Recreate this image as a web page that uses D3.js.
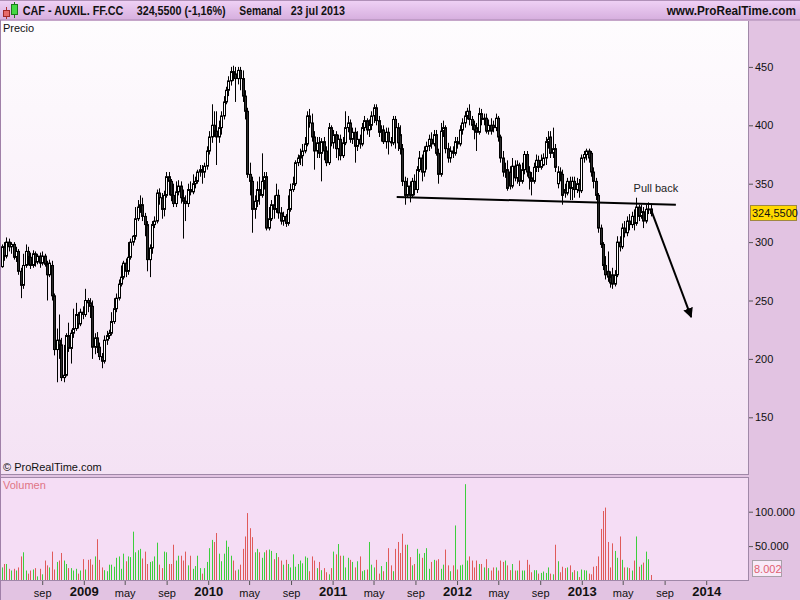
<!DOCTYPE html>
<html><head><meta charset="utf-8">
<script src="https://cdn.jsdelivr.net/npm/d3@7"></script>
<style>
body{margin:0;background:#e2c4e2;}
svg{display:block;font-family:Arial,"Liberation Sans",sans-serif;}
</style>
</head><body>
<svg id="chart" width="800" height="600"></svg>
<script>
// ---------- DATA (weekly, CAF - AUXIL. FF.CC) ----------
const firstWeek = "2008-05-05";
const lastWeek = "2013-07-22";
const opens = [279,296,288,300,296,298,287,292,275,263,280,292,287,280,290,283,288,282,288,281,272,280,254,208,216,212,184,186,220,209,222,226,238,230,240,238,250,248,245,210,218,210,202,198,216,220,222,232,243,252,264,270,282,275,287,300,305,320,330,332,322,315,285,295,315,318,342,338,328,340,356,352,340,333,343,348,338,335,333,345,343,350,352,360,362,360,365,378,390,400,395,390,398,408,420,430,438,446,444,440,447,440,425,412,358,352,328,335,345,340,352,356,312,320,332,328,340,325,318,322,316,328,345,350,368,372,374,378,384,408,402,390,378,385,376,386,378,368,398,385,392,380,388,374,385,398,402,388,394,382,388,384,398,404,396,400,408,415,404,394,396,386,394,386,385,405,398,392,380,352,340,348,340,352,345,362,372,360,378,382,388,384,392,376,358,395,398,380,372,378,376,386,384,396,402,408,412,405,400,398,394,410,405,406,395,400,400,398,406,390,372,360,362,360,348,365,355,366,352,362,375,360,355,352,364,370,364,366,372,386,390,376,380,350,360,358,345,342,352,346,352,345,350,344,372,375,378,376,360,352,340,312,298,280,275,270,272,264,272,300,296,312,308,318,315,322,316,330,322,326,318,328,328.4];
const highs = [298,300,304,303,300,300,296,294,278,290,298,296,291,293,292,290,291,292,290,284,285,284,256,226,238,218,212,222,231,225,243,248,240,243,245,260,252,252,250,222,223,214,205,220,224,225,240,252,256,268,280,284,286,300,303,306,330,336,340,338,325,318,298,318,322,345,346,342,344,360,360,354,350,352,353,352,345,340,350,352,358,356,362,366,366,368,382,395,418,412,412,404,412,425,433,442,450,451,450,450,450,447,430,415,368,356,340,352,356,376,360,360,330,336,340,350,345,330,326,324,340,350,356,370,375,380,384,390,412,414,410,395,390,390,389,390,382,402,400,396,395,392,392,390,412,408,405,398,398,395,392,402,408,406,405,412,418,418,408,400,400,398,398,390,408,408,402,400,384,356,355,352,355,358,365,378,375,382,386,392,394,396,396,380,402,404,400,385,382,382,390,390,400,406,412,415,418,408,404,402,415,414,410,410,405,406,404,410,408,392,378,368,370,365,372,370,370,368,368,378,378,365,360,368,375,374,375,376,390,395,395,398,384,365,364,362,350,355,356,356,356,355,354,375,378,380,380,378,364,355,342,315,300,288,292,275,278,276,305,305,316,318,322,324,326,328,338,332,332,330,332,334,333];
const lows = [278,284,286,292,290,285,283,272,252,260,278,280,277,278,279,281,278,280,279,250,270,250,203,180,200,181,180,185,206,196,218,224,226,228,234,236,240,235,200,204,205,199,192,196,212,217,220,230,240,250,262,268,270,272,285,297,302,318,325,318,305,275,270,290,312,316,332,320,322,338,340,335,330,330,340,333,303,318,330,340,341,346,350,356,350,355,362,375,385,390,366,385,392,405,418,425,434,438,420,435,430,420,405,355,340,308,320,330,332,338,345,310,310,318,320,325,320,315,314,313,314,326,343,348,365,366,365,376,382,398,386,362,372,372,352,370,365,366,382,380,372,370,370,372,383,394,385,384,368,378,380,382,395,392,390,396,402,400,390,386,384,380,375,382,383,380,378,375,348,332,338,334,338,340,342,360,352,356,362,378,380,382,374,350,356,390,376,368,368,372,374,380,382,392,398,405,400,396,388,378,392,400,400,393,392,392,394,395,386,368,356,355,344,345,346,352,350,348,350,358,356,345,340,350,360,360,362,365,366,380,372,372,360,346,352,332,338,340,336,336,338,342,338,342,368,370,368,356,346,336,308,295,276,268,266,261,260,262,270,292,294,304,305,310,312,310,314,318,320,312,316,324,322];
const closes = [296,288,300,296,298,287,292,275,263,280,292,287,280,290,283,288,282,288,281,272,282,254,208,216,212,184,186,220,209,222,226,238,230,240,238,250,248,245,210,218,210,202,198,216,220,222,232,243,252,264,270,282,275,287,300,305,320,330,332,322,315,285,295,315,318,342,338,328,340,356,352,340,333,343,348,338,335,333,345,343,350,352,360,362,360,365,378,390,400,395,390,398,408,420,430,438,446,444,440,447,440,425,412,358,352,328,335,345,340,352,356,312,320,332,328,340,325,318,322,316,328,345,350,368,372,374,378,384,408,402,390,378,385,376,386,378,368,398,385,392,380,388,374,385,398,402,388,394,382,388,384,398,404,396,400,408,415,404,394,396,386,394,386,385,405,398,385,380,352,340,348,340,352,345,362,372,360,378,382,388,384,392,376,358,395,398,380,372,378,376,386,384,396,402,408,412,405,400,396,394,410,405,406,395,400,395,398,406,390,372,360,362,346,348,365,355,366,352,362,375,360,355,352,364,370,364,370,372,386,388,376,380,364,360,358,340,342,352,346,352,345,350,344,372,375,378,372,360,352,340,312,298,280,272,270,265,264,272,300,296,312,308,318,315,322,316,330,322,326,318,328,328.4,324.55];
const volumes = [19000,24000,24000,17000,14500,17000,14500,19000,35000,41000,14500,10000,14500,16000,18000,6000,17000,9000,29000,22000,19000,42000,16000,27000,29000,40000,29000,24000,18000,18000,14500,17000,10000,14500,31000,16000,30000,31000,23000,35000,60000,30000,19000,15000,13500,23000,23000,20000,33000,35000,17000,39000,28000,35000,34000,71000,41000,44000,46000,32000,42000,24000,27000,28000,35000,55000,23000,18000,42000,41000,24000,24000,52000,29000,36000,36000,29000,42000,22000,36000,17000,21000,36000,18000,10000,18000,27000,47000,59000,56000,69000,39000,28000,39000,58000,49000,36000,29000,14500,16000,23000,46000,64000,98000,76000,63000,41000,46000,41000,33000,41000,44000,45000,43000,31000,40000,34000,29000,23000,30000,24000,19000,38000,20000,24000,29000,25000,35000,33000,13500,35000,29000,18000,27000,15000,18000,12000,9000,18000,42000,38000,53000,36000,36000,19000,33000,30000,27000,19000,28000,35000,13500,15000,16000,56000,23000,19000,30000,10000,21000,13500,27000,47000,22000,13500,46000,56000,40000,68000,52000,52000,34000,22000,24000,46000,39000,33000,40000,47000,17000,27000,30000,29000,31000,17000,23000,45000,22000,13500,22000,80000,16000,22000,23000,140000,29000,35000,29000,19000,29000,24000,24000,19000,31000,18000,14500,19000,19000,14500,29000,27000,29000,22000,15000,24000,14500,14500,29000,14500,14500,30000,23000,12000,15000,15000,10000,11000,13000,11000,19000,10000,9000,52000,28000,12000,20000,18000,19000,22000,12000,15000,13500,5000,16000,15000,14500,10000,9000,20000,21000,35000,75000,101000,106000,56000,19000,54000,43000,33000,64000,30000,19000,19000,18000,14500,29000,64000,20000,23000,26000,42000,31000,8002];
const priceTicks = [150,200,250,300,350,400,450];
const volumeTicks = [50000,100000];
const timeTickDates = ["2008-09-01","2009-01-01","2009-05-01","2009-09-01","2010-01-01","2010-05-01","2010-09-01","2011-01-01","2011-05-01","2011-09-01","2012-01-01","2012-05-01","2012-09-01","2013-01-01","2013-05-01","2013-09-01","2014-01-01"];
const timeTickLabels = ["sep","2009","may","sep","2010","may","sep","2011","may","sep","2012","may","sep","2013","may","sep","2014"];
const lastPrice = 324.55;
const lastVolume = 8002;
const titleText = ["CAF - AUXIL. FF.CC","324,5500 (-1,16%)","Semanal","23 jul 2013"];
// annotation (drawn by hand on the chart) in data coordinates
const supportLine = [["2011-07-08",338.6],["2013-10-04",332]];
const arrowLine = [["2013-07-24",327],["2013-11-18",235.8]];
const noteText = {date:"2013-06-02",price:342.5,text:"Pull back"};

// ---------- LAYOUT ----------
const W=800,H=600;
const P={l:0,r:748,t:21,b:474};     // price panel
const V={l:0,r:748,t:477,b:580};    // volume panel
const parse=d3.utcParse("%Y-%m-%d");
const dates=d3.utcMonday.range(parse(firstWeek), d3.utcDay.offset(parse(lastWeek),1));
const candles=dates.map((d,i)=>({date:d,o:opens[i],h:highs[i],l:lows[i],c:closes[i],v:volumes[i]}));

const x=d3.scaleUtc().domain([parse("2009-01-01"),parse("2014-01-01")]).range([83.8,706.2]);
const y=d3.scaleLinear().domain([150,450]).range([417.3,66.9]);
const yv=d3.scaleLinear().domain([0,100000]).range([580.5,511.7]);
const loc=d3.formatLocale({decimal:",",thousands:".",grouping:[3],currency:["",""]});
const fmtVol=loc.format(",.0f");
const fmtPrice=loc.format(".4f");

const svg=d3.select("#chart");
const defs=svg.append("defs");
const g1=defs.append("linearGradient").attr("id","hdr").attr("x1",0).attr("y1",0).attr("x2",0).attr("y2",1);
g1.append("stop").attr("offset","0%").attr("stop-color","#f0d2f6");
g1.append("stop").attr("offset","100%").attr("stop-color","#d6aede");
const g2=defs.append("linearGradient").attr("id","pbg").attr("x1",0).attr("y1",0).attr("x2",0).attr("y2",1);
g2.append("stop").attr("offset","0%").attr("stop-color","#fefcfe");
g2.append("stop").attr("offset","100%").attr("stop-color","#f4e2f4");

// page background
svg.append("rect").attr("width",W).attr("height",H).attr("fill","#e2c3e2");
// header
svg.append("rect").attr("x",0).attr("y",0).attr("width",W).attr("height",20).attr("fill","url(#hdr)");
svg.append("line").attr("x1",0).attr("x2",W).attr("y1",0.5).attr("y2",0.5).attr("stroke","#b090b8");
svg.append("line").attr("x1",0).attr("x2",W).attr("y1",20).attr("y2",20).attr("stroke","#a888b0");
// header icon
svg.append("line").attr("x1",6.5).attr("x2",6.5).attr("y1",7).attr("y2",19).attr("stroke","#b03030");
svg.append("rect").attr("x",3.5).attr("y",10.5).attr("width",6).attr("height",6).attr("fill","#e86a6a").attr("stroke","#a02828");
svg.append("line").attr("x1",14.5).attr("x2",14.5).attr("y1",2).attr("y2",18).attr("stroke","#1c7a1c");
svg.append("rect").attr("x",11.5).attr("y",4.5).attr("width",6).attr("height",10).attr("fill","#44d844").attr("stroke","#1c7a1c");
const hx=[22.7,136.7,239.3,290.7];
const hw=[100.7,89,42.3,54.3];
titleText.forEach((t,i)=>svg.append("text").attr("x",hx[i]).attr("y",15).attr("font-size","12px").attr("font-weight","bold").attr("fill","#111")
  .attr("textLength",hw[i]).attr("lengthAdjust","spacingAndGlyphs").text(t));
svg.append("text").attr("x",666.7).attr("y",15).attr("font-size","12px").attr("font-weight","bold").attr("fill","#111")
  .attr("textLength",129.3).attr("lengthAdjust","spacingAndGlyphs").text("www.ProRealTime.com");

// price panel
svg.append("rect").attr("x",P.l).attr("y",P.t).attr("width",P.r-P.l).attr("height",P.b-P.t).attr("fill","url(#pbg)");
svg.append("line").attr("x1",P.r+0.5).attr("x2",P.r+0.5).attr("y1",P.t).attr("y2",P.b+1).attr("stroke","#a088a8");
svg.append("line").attr("x1",0).attr("x2",P.r+1).attr("y1",P.b+0.5).attr("y2",P.b+0.5).attr("stroke","#a088a8");
svg.append("text").attr("x",3).attr("y",32).attr("font-size","11px").attr("fill","#111").text("Precio");
svg.append("text").attr("x",3).attr("y",471).attr("font-size","11px").attr("fill","#111").text("© ProRealTime.com");

// volume panel
svg.append("rect").attr("x",V.l).attr("y",V.t).attr("width",V.r-V.l).attr("height",V.b-V.t).attr("fill","#f5ddf5");
svg.append("line").attr("x1",0).attr("x2",V.r+1).attr("y1",V.t+0.5).attr("y2",V.t+0.5).attr("stroke","#a088a8");
svg.append("line").attr("x1",V.r+0.5).attr("x2",V.r+0.5).attr("y1",V.t).attr("y2",V.b+1).attr("stroke","#a088a8");
svg.append("line").attr("x1",0).attr("x2",V.r+1).attr("y1",V.b+0.5).attr("y2",V.b+0.5).attr("stroke","#a088a8");
svg.append("text").attr("x",3).attr("y",489).attr("font-size","11px").attr("fill","#e07585").text("Volumen");
// left border
svg.append("line").attr("x1",0.5).attr("x2",0.5).attr("y1",20).attr("y2",H).attr("stroke","#a080a8");

// price axis
const ya=svg.append("g").attr("transform",`translate(${P.r+1},0)`).call(d3.axisRight(y).tickValues(priceTicks).tickSize(4).tickPadding(2));
ya.select(".domain").remove();
ya.selectAll("line").attr("stroke","#555");
ya.selectAll("text").attr("font-size","11px").attr("font-family","Arial,'Liberation Sans',sans-serif").attr("fill","#111");
// volume axis
const va=svg.append("g").attr("transform",`translate(${V.r+1},0)`).call(d3.axisRight(yv).tickValues(volumeTicks).tickSize(4).tickPadding(2).tickFormat(fmtVol));
va.select(".domain").remove();
va.selectAll("line").attr("stroke","#555");
va.selectAll("text").attr("font-size","11px").attr("font-family","Arial,'Liberation Sans',sans-serif").attr("fill","#111");
// time axis
const tickDates=timeTickDates.map(parse);
const xa=svg.append("g").attr("transform",`translate(0,${V.b+1})`).call(d3.axisBottom(x).tickValues(tickDates).tickSize(4).tickPadding(3).tickFormat((d,i)=>timeTickLabels[i]));
xa.select(".domain").remove();
xa.selectAll("line").attr("stroke","#555");
xa.selectAll("text").attr("font-family","Arial,'Liberation Sans',sans-serif").attr("fill","#111")
  .attr("font-size",(d,i)=>/^\d/.test(timeTickLabels[i])?"13px":"11px")
  .attr("font-weight",(d,i)=>/^\d/.test(timeTickLabels[i])?"bold":"normal")
  .attr("dy",(d,i)=>/^\d/.test(timeTickLabels[i])?"0.62em":"0.8em");

// volume bars
const cx=d=>Math.round(x(d.date));
svg.append("g").selectAll("rect").data(candles).join("rect")
  .attr("x",d=>cx(d)).attr("width",1)
  .attr("y",d=>yv(d.v)).attr("height",d=>V.b-yv(d.v))
  .attr("fill",d=>d.c>=d.o?"#3ccf3c":"#e05a5a");

// candles
const cg=svg.append("g");
cg.selectAll("line").data(candles).join("line")
  .attr("x1",d=>cx(d)+0.5).attr("x2",d=>cx(d)+0.5)
  .attr("y1",d=>y(d.h)).attr("y2",d=>y(d.l))
  .attr("stroke","#000").attr("stroke-width",1);
cg.selectAll("rect").data(candles).join("rect")
  .attr("x",d=>cx(d)-0.5).attr("width",2)
  .attr("y",d=>y(Math.max(d.o,d.c))).attr("height",d=>Math.max(1,Math.abs(y(d.o)-y(d.c))))
  .attr("fill",d=>d.c>=d.o?"#ffffff":"#2a2a2a").attr("stroke","#000").attr("stroke-width",1);

// annotations
const pt=p=>[x(parse(p[0])),y(p[1])];
const s0=pt(supportLine[0]),s1=pt(supportLine[1]);
svg.append("line").attr("x1",s0[0]).attr("y1",s0[1]).attr("x2",s1[0]).attr("y2",s1[1]).attr("stroke","#000").attr("stroke-width",2);
const a0=pt(arrowLine[0]),a1=pt(arrowLine[1]);
defs.append("marker").attr("id","ah").attr("viewBox","0 0 10 10").attr("refX",9).attr("refY",5)
  .attr("markerWidth",5).attr("markerHeight",5).attr("orient","auto")
  .append("path").attr("d","M0,0L10,5L0,10z").attr("fill","#000");
svg.append("line").attr("x1",a0[0]).attr("y1",a0[1]).attr("x2",a1[0]).attr("y2",a1[1]).attr("stroke","#000").attr("stroke-width",2).attr("marker-end","url(#ah)");
svg.append("text").attr("x",x(parse(noteText.date))).attr("y",y(noteText.price)).attr("font-size","11px").attr("fill","#222").text(noteText.text);

// last price label
const ly=y(lastPrice);
svg.append("rect").attr("x",750.5).attr("y",Math.round(ly)-7.5).attr("width",46).attr("height",15).attr("fill","#ffd800").attr("stroke","#a08840");
svg.append("text").attr("x",752).attr("y",ly).attr("dy","0.35em").attr("font-size","11px").attr("fill","#111").text(fmtPrice(lastPrice));
// last volume label
svg.append("rect").attr("x",752.5).attr("y",560.5).attr("width",29).attr("height",16).attr("fill","#f8eaf8").attr("stroke","#a8a0a8");
svg.append("text").attr("x",754).attr("y",572.5).attr("font-size","11px").attr("fill","#e06070").text(fmtVol(lastVolume));
</script>
</body></html>
